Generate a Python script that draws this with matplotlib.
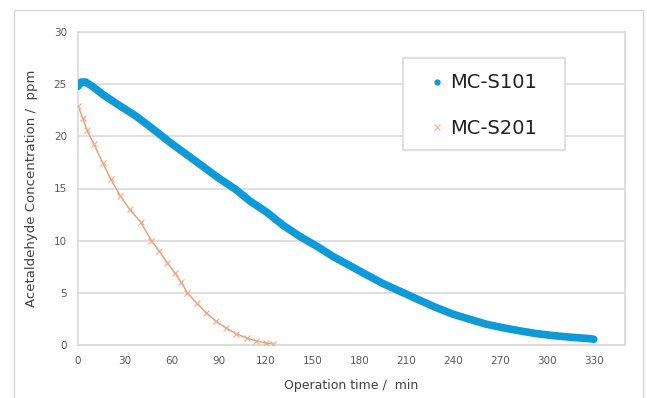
import matplotlib
matplotlib.use('Agg')
from matplotlib import pyplot as plt
from matplotlib.patches import Rectangle

# data (minutes, ppm)
s101_time = [0, 2, 5, 10, 16, 25, 37, 48, 59, 70, 80, 90, 101, 110, 121, 131,
             142, 153, 163, 174, 185, 195, 206, 217, 229, 240, 251, 261, 272,
             283, 293, 304, 315, 328, 330]
s101_conc = [24.8, 25.2, 25.2, 24.7, 24.0, 23.1, 21.95, 20.7, 19.4, 18.2, 17.1,
             16.0, 14.9, 13.8, 12.7, 11.5, 10.4, 9.45, 8.5, 7.6, 6.7, 5.9, 5.15,
             4.4, 3.6, 2.95, 2.45, 2.0, 1.65, 1.35, 1.1, 0.9, 0.75, 0.6, 0.55]

s201_time = [0, 3, 5.6, 10, 16, 21, 27, 33, 40, 47, 52, 57, 62, 66, 70, 76, 82,
             88, 95, 101, 108, 114, 120, 125]
s201_conc = [22.9, 21.8, 20.6, 19.3, 17.4, 15.9, 14.3, 13.0, 11.8, 10.0, 9.0,
             7.9, 6.9, 6.0, 5.0, 4.0, 3.1, 2.3, 1.6, 1.1, 0.65, 0.4, 0.2, 0.1]

x_ticks = list(range(0, 331, 30))
y_ticks = [0, 5, 10, 15, 20, 25, 30]

blue = '#0E9AD7'
orange = '#ED8A5C'
grey = '#595959'
W, H = 647, 398

fig = plt.figure(figsize=(W / 100, H / 100), dpi=100)

# outer chart border
fig.patches.append(Rectangle((14 / W, -0.02), 629 / W, 1 - 10 / H + 0.02,
                             transform=fig.transFigure, fill=False,
                             edgecolor='#D9D9D9', lw=1))

ax = fig.add_axes([78 / W, 1 - 345 / H, (625 - 78) / W, (345 - 32) / H])

ax.plot(s201_time, s201_conc, color=orange, lw=1.0, alpha=0.85, zorder=2)
ax.plot(s201_time, s201_conc, ls='none', marker='x', ms=4, mew=0.8,
        color='#F2A888', zorder=3)
ax.plot(s101_time, s101_conc, color=blue, lw=5.5, solid_capstyle='round', zorder=4)

ax.set_xlim(0, 350)
ax.set_ylim(0, 30)
ax.set_xticks(x_ticks)
ax.set_yticks(y_ticks)
ax.tick_params(length=0, labelsize=7.5, colors=grey, pad=8)
ax.grid(axis='y', color='#D9D9D9', lw=1.2)
ax.set_axisbelow(True)
for sp in ax.spines.values():
    sp.set_color('#D9D9D9')
    sp.set_linewidth(1.2)

ax.set_xlabel('Operation time /  min', fontsize=9, color='#404040', labelpad=9)
ax.set_ylabel('Acetaldehyde Concentration /  ppm', fontsize=9.5, color='#404040',
              labelpad=11)

# legend box
fig.patches.append(Rectangle((403 / W, 1 - 150 / H), 162 / W, 92 / H,
                             transform=fig.transFigure, facecolor='white',
                             edgecolor='#D9D9D9', lw=1.2, zorder=5))
h1, = ax.plot([], [], ls='none', marker='o', ms=3.5, color=blue)
h2, = ax.plot([], [], ls='none', marker='x', ms=4, mew=0.8, color='#F2B49A')
leg = fig.legend([h1, h2], ['MC-S101', 'MC-S201'], loc='upper left',
                 bbox_to_anchor=(427 / W, 1 - 73.5 / H), fontsize=14,
                 frameon=False, borderpad=0, borderaxespad=0,
                 labelspacing=1.35, handlelength=1.0, handletextpad=0.2)
leg.set_zorder(6)
for t in leg.get_texts():
    t.set_color('#222222')

fig.savefig('out.png', dpi=100)
